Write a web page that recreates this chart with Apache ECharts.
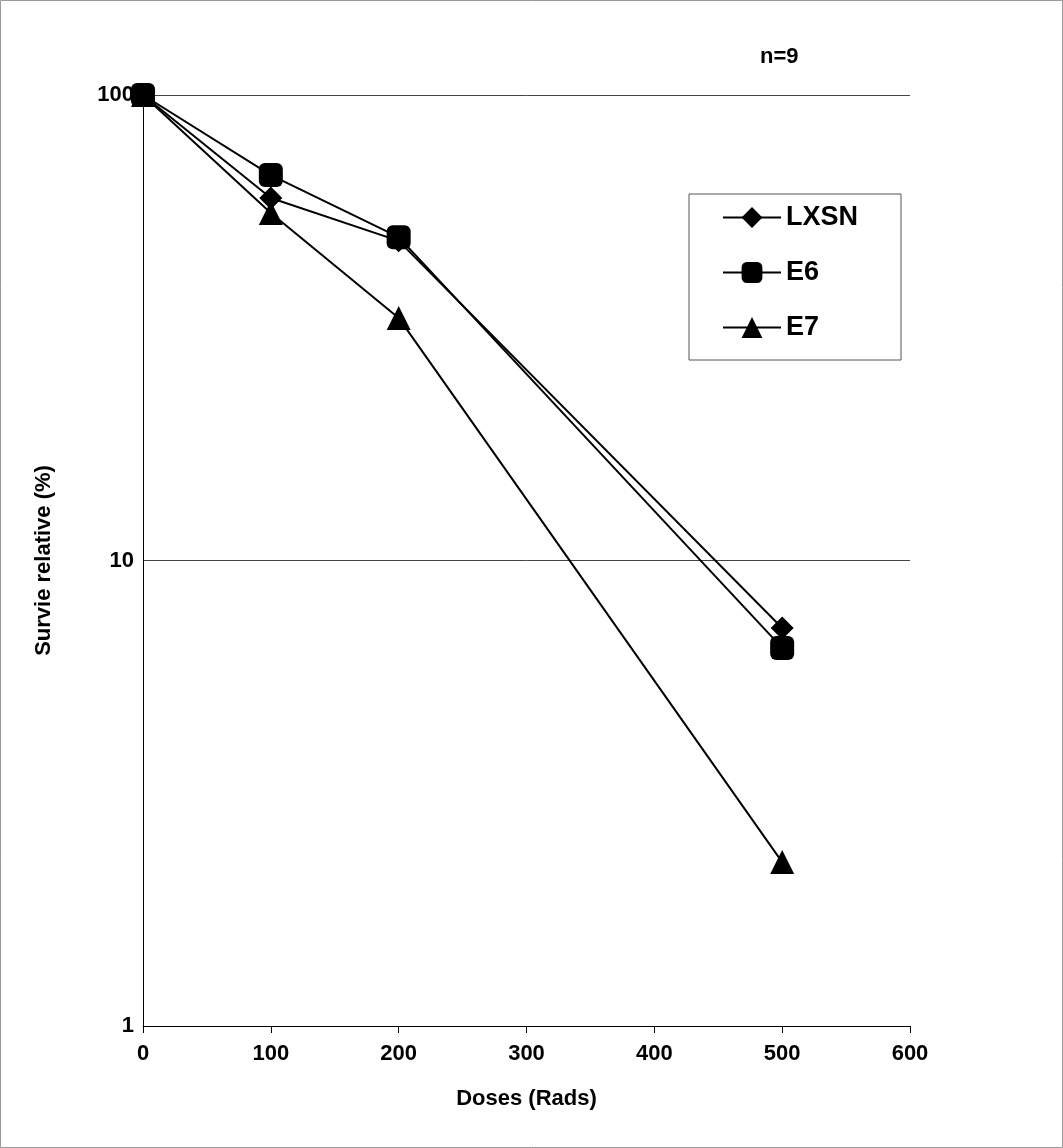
<!DOCTYPE html>
<html>
<head>
<meta charset="utf-8">
<script src="https://cdn.jsdelivr.net/npm/echarts@6/dist/echarts.min.js"></script>
<style>
  html, body { margin: 0; padding: 0; background: #fff; }
  #chart { width: 1063px; height: 1148px; }
</style>
</head>
<body>
<div id="chart"></div>
<script>
// doses (Rads) and relative survival (%)
var doses = [0, 100, 200, 500];
var lxsn = [100, 60.1, 48.6, 7.16];
var e6 = [100, 67.3, 49.5, 6.49];
var e7 = [100, 55.8, 33.2, 2.25];
var yTicks = [1, 10, 100];

var font = '"Liberation Sans", Arial, sans-serif';

function pairs(vals) {
  return doses.map(function (d, i) { return [d, vals[i]]; });
}

function lineSeries(name, vals, symbol, size) {
  return {
    name: name,
    type: 'line',
    data: pairs(vals),
    symbol: symbol,
    symbolSize: size,
    showAllSymbol: true,
    itemStyle: { color: '#000' },
    lineStyle: { color: '#000', width: 2 },
    z: 3
  };
}

var chart = echarts.init(document.getElementById('chart'));
chart.setOption({
  backgroundColor: '#fff',
  animation: false,
  graphic: [{
    type: 'rect',
    shape: { x: 0.5, y: 0.5, width: 1062, height: 1147 },
    style: { fill: 'none', stroke: '#999', lineWidth: 1 }
  }, {
    type: 'text',
    left: 760, top: 46,
    style: { text: 'n=9', font: 'bold 22px ' + font, fill: '#000' }
  }],
  grid: { left: 143, right: 153, top: 95, bottom: 122 },
  legend: {
    orient: 'vertical',
    left: 689, top: 194,
    padding: [10, 43, 19, 33],
    itemGap: 28,
    itemWidth: 58,
    itemHeight: 26,
    borderColor: '#555',
    borderWidth: 1,
    textStyle: { fontFamily: font, fontWeight: 'bold', fontSize: 27, color: '#000' },
    data: ['LXSN', 'E6', 'E7']
  },
  xAxis: {
    type: 'value',
    min: 0, max: 600, interval: 100,
    name: 'Doses (Rads)',
    nameLocation: 'middle',
    nameGap: 62,
    nameTextStyle: { fontFamily: font, fontWeight: 'bold', fontSize: 22, color: '#000' },
    axisLine: { lineStyle: { color: '#000', width: 1 } },
    axisTick: { inside: false, length: 7, lineStyle: { color: '#000' } },
    axisLabel: { margin: 17, fontFamily: font, fontWeight: 'bold', fontSize: 22, color: '#000' },
    splitLine: { show: false }
  },
  yAxis: {
    type: 'log',
    logBase: 10,
    min: yTicks[0], max: yTicks[yTicks.length - 1],
    name: 'Survie relative (%)',
    nameLocation: 'middle',
    nameGap: 88,
    nameTextStyle: { fontFamily: font, fontWeight: 'bold', fontSize: 22, color: '#000' },
    axisLine: { show: true, lineStyle: { color: '#000', width: 1 } },
    axisTick: { show: false },
    axisLabel: { margin: 9, fontFamily: font, fontWeight: 'bold', fontSize: 22, color: '#000' },
    splitLine: { show: true, lineStyle: { color: '#444', width: 1 } }
  },
  series: [
    lineSeries('LXSN', lxsn, 'diamond', 23),
    lineSeries('E6', e6, 'roundRect', 24),
    lineSeries('E7', e7, 'triangle', 24)
  ]
});
</script>
</body>
</html>
